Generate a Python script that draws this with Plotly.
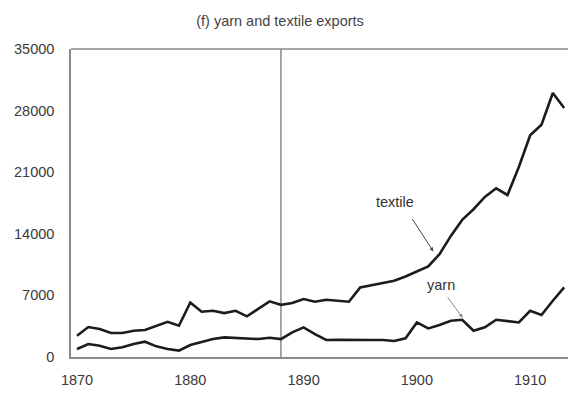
import plotly.graph_objects as go

# Annual exports, 1870-1913
years = list(range(1870, 1914))
textile = [2420, 3400, 3180, 2720, 2720, 2980, 3060, 3550, 4000, 3550,
           6200, 5140, 5250, 4990, 5250, 4620, 5450, 6320, 5930, 6130,
           6580, 6280, 6500, 6430, 6280, 7900, 8170, 8400, 8660, 9150,
           9680, 10290, 11690, 13760, 15580, 16790, 18190, 19170, 18410, 21600,
           25200, 26400, 30000, 28300]
yarn = [910, 1470, 1280, 910, 1100, 1470, 1740, 1210, 910, 720,
        1360, 1740, 2040, 2230, 2160, 2120, 2040, 2190, 2040, 2800,
        3370, 2610, 1930, 1960, 1930, 1930, 1930, 1930, 1820, 2120,
        3930, 3250, 3630, 4120, 4230, 2980, 3370, 4230, 4120, 3930,
        5250, 4770, 6390, 7910]
x_ticks = [1870, 1880, 1890, 1900, 1910]
y_ticks = [0, 7000, 14000, 21000, 28000, 35000]
marker_year = 1888

FONT = "Liberation Sans, Arial, Helvetica, sans-serif"
LINE = "#1c1c1c"
AXIS = "#8a8a8a"

fig = go.Figure()
fig.add_trace(go.Scatter(x=years, y=textile, mode="lines", name="textile",
                         line=dict(color=LINE, width=2.6), showlegend=False))
fig.add_trace(go.Scatter(x=years, y=yarn, mode="lines", name="yarn",
                         line=dict(color=LINE, width=2.6), showlegend=False))

# vertical reference line and top frame line
fig.add_shape(type="line", xref="x", yref="paper", x0=marker_year, x1=marker_year,
              y0=0, y1=1, line=dict(color=AXIS, width=1.5), layer="below")
fig.add_shape(type="line", xref="paper", yref="paper", x0=0, x1=1, y0=1, y1=1,
              line=dict(color=AXIS, width=1.5))

# series labels with arrows
fig.add_annotation(x=1898.07, y=17560, text="textile", showarrow=False,
                   font=dict(family=FONT, size=14.5, color="#333"))
fig.add_annotation(x=1901.45, y=12000, ax=-22, ay=-34, text="", showarrow=True,
                   arrowhead=2, arrowsize=0.8, arrowwidth=1, arrowcolor="#444")
fig.add_annotation(x=1902.13, y=8220, text="yarn", showarrow=False,
                   font=dict(family=FONT, size=14.5, color="#333"))
fig.add_annotation(x=1904.04, y=4450, ax=-16, ay=-22, text="", showarrow=True,
                   arrowhead=2, arrowsize=0.8, arrowwidth=1, arrowcolor="#888")

fig.update_layout(
    width=568, height=393,
    margin=dict(l=71, r=0, t=49, b=35.5),
    paper_bgcolor="white", plot_bgcolor="white",
    font=dict(family=FONT, size=14.5, color="#3a3a3a"),
    title=dict(text="(f) yarn and textile exports", x=280 / 568, xanchor="center",
               xref="container", y=1 - 20.7 / 393, yanchor="middle", yref="container",
               font=dict(family=FONT, size=14.5, color="#444")),
    xaxis=dict(range=[1869.47, 1913.34], tickvals=x_ticks,
               ticktext=[str(v) for v in x_ticks], showgrid=False, zeroline=False,
               showline=True, linecolor=AXIS, linewidth=1.5, ticks="",
               ticklabelstandoff=9),
    yaxis=dict(range=[0, 35000], tickvals=y_ticks,
               ticktext=[str(v) for v in y_ticks], showgrid=False, zeroline=False,
               showline=True, linecolor=AXIS, linewidth=1.5, ticks="",
               ticklabelstandoff=12),
)

fig.write_html("out.html")
